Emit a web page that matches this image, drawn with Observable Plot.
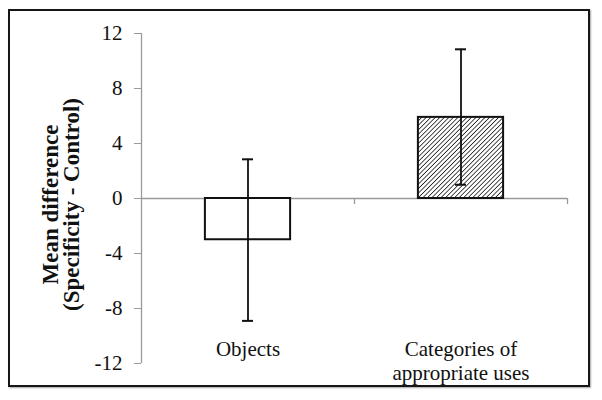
<!DOCTYPE html>
<html>
<head>
<meta charset="utf-8">
<script src="https://cdn.jsdelivr.net/npm/d3@7"></script>
<script src="https://cdn.jsdelivr.net/npm/@observablehq/plot@0.6"></script>
<style>
  html, body { margin: 0; padding: 0; background: #fff; }
  #wrap { position: relative; width: 602px; height: 400px; }
  #border { position: absolute; left: 8px; top: 9px; width: 578px; height: 374px;
            border: 2px solid #161616; box-shadow: 1px 1px 1.5px rgba(0,0,0,0.35); }
  #wrap svg { position: absolute; left: 0; top: 0; }
</style>
</head>
<body>
<div id="wrap"><div id="border"></div></div>
<script>
// ---- data ----
const categories = ["Objects", "Categories of appropriate uses"];
const categoryLabels = ["Objects", "Categories of\nappropriate uses"];
const means = [-3.0, 5.9];
const errLow = [-8.9, 1.0];
const errHigh = [2.85, 10.85];
const fills = ["white", "url(#hatch)"];
const yTicks = [-12, -8, -4, 0, 4, 8, 12];
const yLabel = "Mean difference\n(Specificity - Control)";

const rows = categories.map((c, i) => ({
  category: c, label: categoryLabels[i], pos: i + 0.5,
  mean: means[i], low: errLow[i], high: errHigh[i], fill: fills[i]
}));

const ink = "#111";
const gray = "#9a9a9a";
const barHalf = 0.2;

const svg = Plot.plot({
  width: 602,
  height: 400,
  marginLeft: 141,
  marginRight: 35,
  marginTop: 33,
  marginBottom: 37,
  style: { fontFamily: "'Liberation Serif', 'Times New Roman', serif", fontSize: "21px", color: ink, background: "transparent" },
  x: { domain: [0, categories.length], axis: null },
  y: { domain: [d3.min(yTicks), d3.max(yTicks)], axis: null },
  color: { type: "identity" },
  marks: [
    Plot.axisY({ ticks: yTicks, tickSize: 7, tickPadding: 12, tickFormat: d => String(d), stroke: gray, fill: ink, label: null, fontSize: 21 }),
    Plot.ruleX([0], { stroke: gray, strokeWidth: 1.3 }),
    Plot.ruleY([0], { stroke: gray, strokeWidth: 1.3 }),
    Plot.ruleX(d3.range(1, categories.length + 1), { y1: 0, y2: 0, insetBottom: -6, stroke: gray, strokeWidth: 1.3 }),
    Plot.rectY(rows, { x1: d => d.pos - barHalf, x2: d => d.pos + barHalf, y1: 0, y2: "mean",
      fill: "fill", stroke: ink, strokeWidth: 2, style: "filter: drop-shadow(1px 1.5px 1px rgba(0,0,0,0.3))" }),
    Plot.ruleX(rows, { x: "pos", y1: "low", y2: "high", stroke: ink, strokeWidth: 1.8 }),
    Plot.ruleY(rows, { y: "low", x1: "pos", x2: "pos", insetLeft: -5.5, insetRight: -5.5, stroke: ink, strokeWidth: 2 }),
    Plot.ruleY(rows, { y: "high", x1: "pos", x2: "pos", insetLeft: -5.5, insetRight: -5.5, stroke: ink, strokeWidth: 2 }),
    Plot.text(rows, { x: "pos", text: "label", frameAnchor: "bottom", lineAnchor: "top", dy: -24, fontSize: 21, lineHeight: 1.12, fill: ink }),
    Plot.text([yLabel], { frameAnchor: "left", rotate: -90, dx: -80, dy: 6, textAnchor: "middle", lineAnchor: "middle",
      fontWeight: "bold", fontSize: 23, lineHeight: 0.92, fill: ink })
  ]
});

// hatch pattern for the second bar
const defs = d3.select(svg).insert("defs", ":first-child");
const pat = defs.append("pattern").attr("id", "hatch").attr("patternUnits", "userSpaceOnUse")
  .attr("width", 3.2).attr("height", 3.2).attr("patternTransform", "rotate(45)");
pat.append("rect").attr("width", 3.2).attr("height", 3.2).attr("fill", "white");
pat.append("line").attr("x1", 0).attr("y1", 0).attr("x2", 0).attr("y2", 3.2).attr("stroke", ink).attr("stroke-width", 1.5);

document.getElementById("wrap").appendChild(svg);
</script>
</body>
</html>
